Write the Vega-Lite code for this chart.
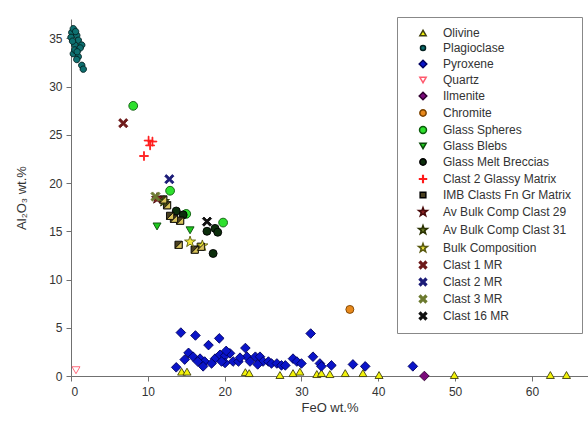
{
  "$schema": "https://vega.github.io/schema/vega-lite/v6.json",
  "width": 517,
  "height": 357,
  "autosize": {"type": "none"},
  "padding": {"left": 71, "top": 19, "right": 0, "bottom": 47},
  "background": "white",
  "config": {
    "view": {"stroke": null},
    "font": "Liberation Sans",
    "axis": {
      "grid": false,
      "domainColor": "#707070",
      "tickColor": "#707070",
      "tickSize": 5,
      "labelFont": "Liberation Sans",
      "labelFontSize": 12,
      "labelColor": "#333333",
      "titleFont": "Liberation Sans",
      "titleFontSize": 13,
      "titleFontWeight": "normal",
      "titleColor": "#333333"
    }
  },
  "datasets": {
    "pts": [
      {"mineral": "Olivine", "FeO": 14.4, "Al2O3": 0.45},
      {"mineral": "Olivine", "FeO": 15.1, "Al2O3": 0.45},
      {"mineral": "Olivine", "FeO": 22.7, "Al2O3": 0.4},
      {"mineral": "Olivine", "FeO": 23.2, "Al2O3": 0.3},
      {"mineral": "Olivine", "FeO": 27.2, "Al2O3": 0.1},
      {"mineral": "Olivine", "FeO": 28.9, "Al2O3": 0.3},
      {"mineral": "Olivine", "FeO": 29.8, "Al2O3": 0.45},
      {"mineral": "Olivine", "FeO": 32.0, "Al2O3": 0.2},
      {"mineral": "Olivine", "FeO": 32.6, "Al2O3": 0.3},
      {"mineral": "Olivine", "FeO": 33.7, "Al2O3": 0.2},
      {"mineral": "Olivine", "FeO": 35.7, "Al2O3": 0.3},
      {"mineral": "Olivine", "FeO": 38.0, "Al2O3": 0.3},
      {"mineral": "Olivine", "FeO": 40.1, "Al2O3": 0.1},
      {"mineral": "Olivine", "FeO": 49.9, "Al2O3": 0.1},
      {"mineral": "Olivine", "FeO": 62.4, "Al2O3": 0.1},
      {"mineral": "Olivine", "FeO": 64.5, "Al2O3": 0.1},
      {"mineral": "Plagioclase", "FeO": 0.1, "Al2O3": 35.6},
      {"mineral": "Plagioclase", "FeO": 0.75, "Al2O3": 35.3},
      {"mineral": "Plagioclase", "FeO": 0.0, "Al2O3": 35.1},
      {"mineral": "Plagioclase", "FeO": 0.95, "Al2O3": 34.8},
      {"mineral": "Plagioclase", "FeO": 1.4, "Al2O3": 34.3},
      {"mineral": "Plagioclase", "FeO": 0.5, "Al2O3": 34.3},
      {"mineral": "Plagioclase", "FeO": 0.3, "Al2O3": 33.4},
      {"mineral": "Plagioclase", "FeO": 0.95, "Al2O3": 33.1},
      {"mineral": "Plagioclase", "FeO": 0.75, "Al2O3": 32.8},
      {"mineral": "Plagioclase", "FeO": 1.4, "Al2O3": 32.2},
      {"mineral": "Plagioclase", "FeO": 1.6, "Al2O3": 31.8},
      {"mineral": "Plagioclase", "FeO": 0.5, "Al2O3": 33.8},
      {"mineral": "Plagioclase", "FeO": 0.3, "Al2O3": 36.0},
      {"mineral": "Plagioclase", "FeO": 0.6, "Al2O3": 35.7},
      {"mineral": "Plagioclase", "FeO": 0.2, "Al2O3": 34.7},
      {"mineral": "Plagioclase", "FeO": 1.2, "Al2O3": 34.0},
      {"mineral": "Plagioclase", "FeO": 0.8, "Al2O3": 33.6},
      {"mineral": "Pyroxene", "FeO": 14.3, "Al2O3": 4.5},
      {"mineral": "Pyroxene", "FeO": 16.2, "Al2O3": 4.2},
      {"mineral": "Pyroxene", "FeO": 17.9, "Al2O3": 3.2},
      {"mineral": "Pyroxene", "FeO": 19.3, "Al2O3": 3.9},
      {"mineral": "Pyroxene", "FeO": 15.3, "Al2O3": 2.4},
      {"mineral": "Pyroxene", "FeO": 15.9, "Al2O3": 2.0},
      {"mineral": "Pyroxene", "FeO": 16.8, "Al2O3": 1.8},
      {"mineral": "Pyroxene", "FeO": 17.4, "Al2O3": 1.5},
      {"mineral": "Pyroxene", "FeO": 13.7, "Al2O3": 0.9},
      {"mineral": "Pyroxene", "FeO": 17.2, "Al2O3": 1.0},
      {"mineral": "Pyroxene", "FeO": 18.75, "Al2O3": 1.8},
      {"mineral": "Pyroxene", "FeO": 19.4, "Al2O3": 2.2},
      {"mineral": "Pyroxene", "FeO": 20.05, "Al2O3": 2.1},
      {"mineral": "Pyroxene", "FeO": 20.7, "Al2O3": 2.35},
      {"mineral": "Pyroxene", "FeO": 21.1, "Al2O3": 1.5},
      {"mineral": "Pyroxene", "FeO": 21.8, "Al2O3": 1.5},
      {"mineral": "Pyroxene", "FeO": 22.7, "Al2O3": 2.9},
      {"mineral": "Pyroxene", "FeO": 22.9, "Al2O3": 2.0},
      {"mineral": "Pyroxene", "FeO": 23.3, "Al2O3": 1.5},
      {"mineral": "Pyroxene", "FeO": 24.0, "Al2O3": 2.0},
      {"mineral": "Pyroxene", "FeO": 24.6, "Al2O3": 2.0},
      {"mineral": "Pyroxene", "FeO": 25.0, "Al2O3": 1.5},
      {"mineral": "Pyroxene", "FeO": 25.7, "Al2O3": 1.5},
      {"mineral": "Pyroxene", "FeO": 26.1, "Al2O3": 1.3},
      {"mineral": "Pyroxene", "FeO": 26.8, "Al2O3": 1.3},
      {"mineral": "Pyroxene", "FeO": 27.4, "Al2O3": 1.1},
      {"mineral": "Pyroxene", "FeO": 27.9, "Al2O3": 1.1},
      {"mineral": "Pyroxene", "FeO": 28.9, "Al2O3": 1.8},
      {"mineral": "Pyroxene", "FeO": 29.4, "Al2O3": 1.5},
      {"mineral": "Pyroxene", "FeO": 30.0, "Al2O3": 1.3},
      {"mineral": "Pyroxene", "FeO": 31.2, "Al2O3": 4.4},
      {"mineral": "Pyroxene", "FeO": 31.5, "Al2O3": 2.0},
      {"mineral": "Pyroxene", "FeO": 32.4, "Al2O3": 1.3},
      {"mineral": "Pyroxene", "FeO": 32.6, "Al2O3": 1.0},
      {"mineral": "Pyroxene", "FeO": 33.9, "Al2O3": 1.1},
      {"mineral": "Pyroxene", "FeO": 20.05, "Al2O3": 1.35},
      {"mineral": "Pyroxene", "FeO": 18.3, "Al2O3": 1.3},
      {"mineral": "Pyroxene", "FeO": 19.6, "Al2O3": 1.5},
      {"mineral": "Pyroxene", "FeO": 36.7, "Al2O3": 1.2},
      {"mineral": "Pyroxene", "FeO": 38.3, "Al2O3": 1.0},
      {"mineral": "Pyroxene", "FeO": 44.5, "Al2O3": 1.0},
      {"mineral": "Pyroxene", "FeO": 20.2, "Al2O3": 2.6},
      {"mineral": "Pyroxene", "FeO": 22.0, "Al2O3": 1.9},
      {"mineral": "Pyroxene", "FeO": 24.3, "Al2O3": 1.2},
      {"mineral": "Pyroxene", "FeO": 14.8, "Al2O3": 1.7},
      {"mineral": "Pyroxene", "FeO": 16.5, "Al2O3": 1.5},
      {"mineral": "Quartz", "FeO": 0.65, "Al2O3": 0.6},
      {"mineral": "Ilmenite", "FeO": 46.0, "Al2O3": 0.0},
      {"mineral": "Chromite", "FeO": 36.3, "Al2O3": 6.9},
      {"mineral": "Glass Spheres", "FeO": 8.1, "Al2O3": 28.0},
      {"mineral": "Glass Spheres", "FeO": 12.9, "Al2O3": 19.2},
      {"mineral": "Glass Spheres", "FeO": 15.0, "Al2O3": 16.8},
      {"mineral": "Glass Spheres", "FeO": 19.8, "Al2O3": 15.9},
      {"mineral": "Glass Blebs", "FeO": 11.2, "Al2O3": 15.5},
      {"mineral": "Glass Blebs", "FeO": 15.5, "Al2O3": 15.1},
      {"mineral": "Glass Melt Breccias", "FeO": 13.7, "Al2O3": 17.1},
      {"mineral": "Glass Melt Breccias", "FeO": 14.6, "Al2O3": 16.7},
      {"mineral": "Glass Melt Breccias", "FeO": 17.7, "Al2O3": 15.0},
      {"mineral": "Glass Melt Breccias", "FeO": 18.75, "Al2O3": 15.3},
      {"mineral": "Glass Melt Breccias", "FeO": 19.1, "Al2O3": 14.9},
      {"mineral": "Glass Melt Breccias", "FeO": 18.5, "Al2O3": 12.7},
      {"mineral": "Clast 2 Glassy Matrix", "FeO": 10.1, "Al2O3": 24.4},
      {"mineral": "Clast 2 Glassy Matrix", "FeO": 10.6, "Al2O3": 24.3},
      {"mineral": "Clast 2 Glassy Matrix", "FeO": 10.3, "Al2O3": 23.9},
      {"mineral": "Clast 2 Glassy Matrix", "FeO": 9.5, "Al2O3": 22.8},
      {"mineral": "IMB Clasts Fn Gr Matrix", "FeO": 12.0, "Al2O3": 18.3},
      {"mineral": "IMB Clasts Fn Gr Matrix", "FeO": 12.5, "Al2O3": 17.7},
      {"mineral": "IMB Clasts Fn Gr Matrix", "FeO": 12.9, "Al2O3": 16.6},
      {"mineral": "IMB Clasts Fn Gr Matrix", "FeO": 13.4, "Al2O3": 16.3},
      {"mineral": "IMB Clasts Fn Gr Matrix", "FeO": 14.2, "Al2O3": 16.1},
      {"mineral": "IMB Clasts Fn Gr Matrix", "FeO": 14.0, "Al2O3": 13.6},
      {"mineral": "IMB Clasts Fn Gr Matrix", "FeO": 16.1, "Al2O3": 13.1},
      {"mineral": "IMB Clasts Fn Gr Matrix", "FeO": 16.9, "Al2O3": 13.4},
      {"mineral": "Av Bulk Comp Clast 29", "FeO": 11.2, "Al2O3": 18.4},
      {"mineral": "Av Bulk Comp Clast 31", "FeO": 12.1, "Al2O3": 18.1},
      {"mineral": "Bulk Composition", "FeO": 15.5, "Al2O3": 13.9},
      {"mineral": "Bulk Composition", "FeO": 17.1, "Al2O3": 13.5},
      {"mineral": "Clast 1 MR", "FeO": 6.8, "Al2O3": 26.2},
      {"mineral": "Clast 2 MR", "FeO": 12.8, "Al2O3": 20.4},
      {"mineral": "Clast 3 MR", "FeO": 11.0, "Al2O3": 18.6},
      {"mineral": "Clast 16 MR", "FeO": 17.7, "Al2O3": 16.0}
    ]
  },
  "layer": [
    {
      "data": {"name": "pts"},
      "mark": {"type": "point", "filled": true, "opacity": 1, "strokeWidth": 0.9, "size": 64},
      "encoding": {
        "x": {
          "field": "FeO", "type": "quantitative",
          "scale": {"domain": [0, 67.3], "nice": false, "zero": false},
          "axis": {"values": [0, 10, 20, 30, 40, 50, 60], "title": "FeO wt.%", "labelPadding": 5, "titlePadding": 4}
        },
        "y": {
          "field": "Al2O3", "type": "quantitative",
          "scale": {"domain": [0, 37], "nice": false, "zero": false},
          "axis": {"values": [0, 5, 10, 15, 20, 25, 30, 35], "title": "Al₂O₃ wt.%", "labelPadding": 4, "titlePadding": 20}
        },
        "fill": {
          "field": "mineral", "type": "nominal",
          "scale": {
            "domain": ["Olivine", "Plagioclase", "Pyroxene", "Quartz", "Ilmenite", "Chromite", "Glass Spheres", "Glass Blebs", "Glass Melt Breccias", "Clast 2 Glassy Matrix", "IMB Clasts Fn Gr Matrix", "Av Bulk Comp Clast 29", "Av Bulk Comp Clast 31", "Bulk Composition", "Clast 1 MR", "Clast 2 MR", "Clast 3 MR", "Clast 16 MR"],
            "range": ["#f2f20a", "#0e6f6f", "#0a14c8", "#ffffff", "#7a0a7a", "#e8891c", "#2ee02e", "#1ec81e", "#0c2e0c", "#ff1a1a", "#4a4020", "#8a2424", "#6a7a26", "#f0e83a", "#6e1a1a", "#1c1c78", "#6c7a30", "#111111"]
          },
          "legend": {
            "title": null,
            "orient": "none",
            "legendX": 326,
            "legendY": -2,
            "padding": 10,
            "strokeColor": "#888888",
            "fillColor": "#ffffff",
            "labelFont": "Liberation Sans",
            "labelFontSize": 12,
            "labelColor": "#333333",
            "symbolSize": 40,
            "symbolOffset": 10,
            "labelOffset": 14,
            "rowPadding": 3,
            "labelLimit": 300
          }
        },
        "stroke": {
          "field": "mineral", "type": "nominal",
          "scale": {
            "domain": ["Olivine", "Plagioclase", "Pyroxene", "Quartz", "Ilmenite", "Chromite", "Glass Spheres", "Glass Blebs", "Glass Melt Breccias", "Clast 2 Glassy Matrix", "IMB Clasts Fn Gr Matrix", "Av Bulk Comp Clast 29", "Av Bulk Comp Clast 31", "Bulk Composition", "Clast 1 MR", "Clast 2 MR", "Clast 3 MR", "Clast 16 MR"],
            "range": ["#404010", "#022020", "#000060", "#ff5a6e", "#300030", "#7a4200", "#0a5a0a", "#0a4a0a", "#000000", "#ff1a1a", "#000000", "#4a0a0a", "#2a3200", "#5a5a10", "#6e1a1a", "#1c1c78", "#6c7a30", "#111111"]
          }
        },
        "shape": {
          "field": "mineral", "type": "nominal",
          "scale": {
            "domain": ["Olivine", "Plagioclase", "Pyroxene", "Quartz", "Ilmenite", "Chromite", "Glass Spheres", "Glass Blebs", "Glass Melt Breccias", "Clast 2 Glassy Matrix", "IMB Clasts Fn Gr Matrix", "Av Bulk Comp Clast 29", "Av Bulk Comp Clast 31", "Bulk Composition", "Clast 1 MR", "Clast 2 MR", "Clast 3 MR", "Clast 16 MR"],
            "range": ["triangle-up",
              "M0.8,0A0.8,0.8,0,1,1,-0.8,0A0.8,0.8,0,1,1,0.8,0Z",
              "M0,-1.2L1.2,0L0,1.2L-1.2,0Z",
              "triangle-down",
              "M0,-1.2L1.2,0L0,1.2L-1.2,0Z",
              "circle",
              "M1.1,0A1.1,1.1,0,1,1,-1.1,0A1.1,1.1,0,1,1,1.1,0Z",
              "triangle-down",
              "circle",
              "M-0.1,-1.1L0.1,-1.1L0.1,-0.1L1.1,-0.1L1.1,0.1L0.1,0.1L0.1,1.1L-0.1,1.1L-0.1,0.1L-1.1,0.1L-1.1,-0.1L-0.1,-0.1Z",
              "M-0.9,-0.9L0.9,-0.9L0.9,0.9L-0.9,0.9Z",
              "M0,-1.45L0.34,-0.47L1.38,-0.45L0.55,0.18L0.85,1.17L0,0.58L-0.85,1.17L-0.55,0.18L-1.38,-0.45L-0.34,-0.47Z",
              "M0,-1.45L0.34,-0.47L1.38,-0.45L0.55,0.18L0.85,1.17L0,0.58L-0.85,1.17L-0.55,0.18L-1.38,-0.45L-0.34,-0.47Z",
              "M0,-1.45L0.34,-0.47L1.38,-0.45L0.55,0.18L0.85,1.17L0,0.58L-0.85,1.17L-0.55,0.18L-1.38,-0.45L-0.34,-0.47Z",
              "M-1.15,-0.75L-0.75,-1.15L0,-0.4L0.75,-1.15L1.15,-0.75L0.4,0L1.15,0.75L0.75,1.15L0,0.4L-0.75,1.15L-1.15,0.75L-0.4,0Z",
              "M-1.15,-0.75L-0.75,-1.15L0,-0.4L0.75,-1.15L1.15,-0.75L0.4,0L1.15,0.75L0.75,1.15L0,0.4L-0.75,1.15L-1.15,0.75L-0.4,0Z",
              "M-1.15,-0.75L-0.75,-1.15L0,-0.4L0.75,-1.15L1.15,-0.75L0.4,0L1.15,0.75L0.75,1.15L0,0.4L-0.75,1.15L-1.15,0.75L-0.4,0Z",
              "M-1.15,-0.75L-0.75,-1.15L0,-0.4L0.75,-1.15L1.15,-0.75L0.4,0L1.15,0.75L0.75,1.15L0,0.4L-0.75,1.15L-1.15,0.75L-0.4,0Z"]
          }
        }
      }
    },
    {
      "data": {"name": "pts"},
      "transform": [{"filter": "datum.mineral === 'IMB Clasts Fn Gr Matrix'"}],
      "mark": {"type": "point", "filled": true, "opacity": 1, "shape": "M0.9,-0.9L0.9,0.9L-0.9,0.9Z", "fill": "#d8c25a", "stroke": "#000000", "strokeWidth": 0.8, "size": 64},
      "encoding": {
        "x": {"field": "FeO", "type": "quantitative"},
        "y": {"field": "Al2O3", "type": "quantitative"}
      }
    }
  ]
}
